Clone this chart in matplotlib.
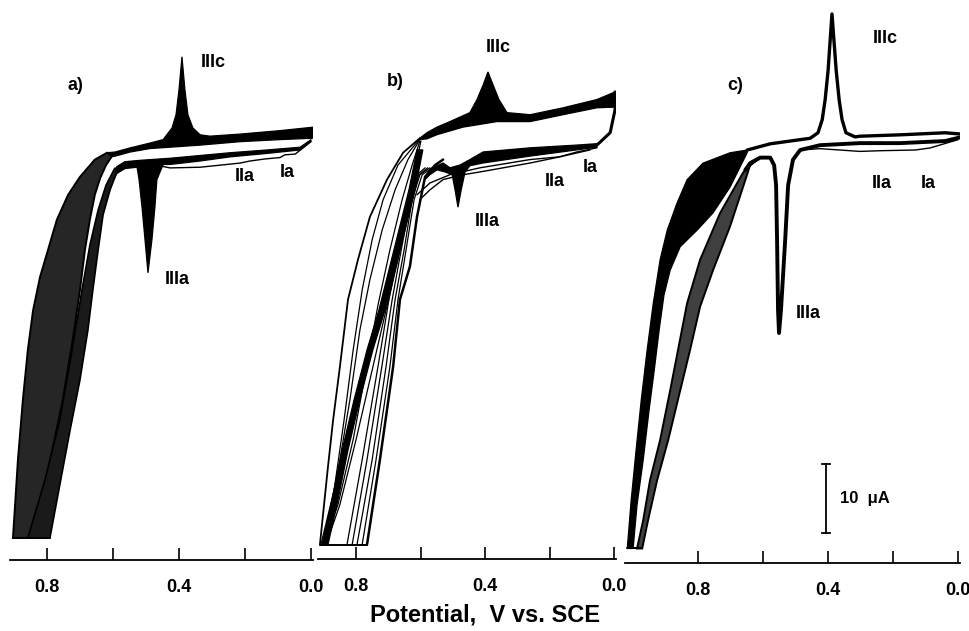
import numpy as np
import matplotlib.pyplot as plt

plt.rcParams['font.family'] = ['Liberation Sans', 'DejaVu Sans']
plt.rcParams['font.weight'] = 'bold'

# x axis: potential (V vs. SCE), y: current (uA), same current scale in all panels
tick_pos = [0.8, 0.6, 0.4, 0.2, 0.0]
tick_lab = ['0.8', '', '0.4', '', '0.0']

# ---------------- a) ----------------
a_up_top_E = [-0.006, 0.094, 0.215, 0.306, 0.336, 0.358, 0.373, 0.382, 0.391, 0.400, 0.409, 0.421, 0.448, 0.488, 0.548, 0.594, 0.618]
a_up_top_I = [3.0, 2.5, 2.0, 1.7, 1.9, 2.9, 4.8, 8.4, 13.2, 8.4, 4.8, 2.9, 1.2, 0.7, 0.0, -0.6, -0.7]
a_up_bot_E = [-0.006, 0.094, 0.215, 0.336, 0.427, 0.488, 0.548, 0.594, 0.609]
a_up_bot_I = [1.4, 1.2, 0.9, 0.4, 0.1, -0.1, -0.6, -1.2, -1.3]
a_lo_top_E = [0.0, 0.033, 0.133, 0.245, 0.336, 0.427, 0.458, 0.518, 0.564, 0.588, 0.600]
a_lo_top_I = [1.2, 0.1, -0.3, -0.7, -1.1, -1.5, -1.6, -1.8, -2.0, -2.7, -3.7]
a_lo_bot_E = [0.0, 0.033, 0.133, 0.245, 0.336, 0.427, 0.448, 0.467, 0.473, 0.482, 0.494, 0.503, 0.512, 0.521, 0.527, 0.564, 0.588, 0.600]
a_lo_bot_I = [1.0, -0.3, -0.8, -1.3, -1.9, -2.4, -2.4, -4.6, -8.6, -13.3, -18.1, -13.3, -8.6, -4.6, -2.8, -3.0, -3.7, -4.5]
a_first_E = [0.0, 0.048, 0.079, 0.094, 0.139, 0.185, 0.215, 0.336, 0.427, 0.458]
a_first_I = [0.9, -0.9, -1.0, -1.4, -1.6, -1.9, -2.2, -2.8, -2.9, -2.6]
a_rev_out_E = [0.618, 0.655, 0.700, 0.736, 0.770, 0.797, 0.821, 0.842, 0.858, 0.873, 0.888, 0.903]
a_rev_out_I = [-0.7, -1.7, -4.2, -6.8, -10.4, -14.8, -18.7, -23.5, -29.3, -36.5, -45.2, -56.5]
a_rev_in_E = [0.603, 0.621, 0.639, 0.655, 0.670, 0.685, 0.700, 0.722, 0.752, 0.790, 0.836]
a_rev_in_I = [-1.2, -2.5, -4.4, -6.8, -10.4, -14.8, -20.6, -27.8, -36.5, -45.2, -56.5]
a_fwd_l_E = [0.594, 0.621, 0.645, 0.670, 0.694, 0.724, 0.761, 0.806, 0.858]
a_fwd_l_I = [-2.9, -5.4, -9.0, -14.1, -20.6, -29.3, -39.4, -48.1, -56.5]
a_fwd_r_E = [0.588, 0.609, 0.630, 0.645, 0.661, 0.676, 0.700, 0.730, 0.761, 0.791]
a_fwd_r_I = [-3.5, -6.1, -9.7, -14.8, -20.6, -26.4, -33.6, -40.9, -48.8, -56.5]
a_bottom_E = [0.903, 0.791]
a_bottom_I = [-56.5, -56.5]

# ---------------- b) ----------------
b_up_top_E = [-0.003, 0.053, 0.158, 0.260, 0.332, 0.357, 0.375, 0.391, 0.406, 0.425, 0.447, 0.509, 0.549, 0.580, 0.602]
b_up_top_I = [8.1, 7.0, 5.8, 4.8, 5.1, 7.0, 9.1, 11.0, 9.1, 7.0, 5.1, 3.8, 3.0, 2.2, 1.4]
b_up_bot_E = [-0.003, 0.053, 0.158, 0.260, 0.363, 0.468, 0.549, 0.580, 0.602]
b_up_bot_I = [5.9, 5.8, 4.8, 3.8, 3.8, 3.0, 1.9, 1.3, 1.2]
b_right_E = [-0.003, -0.003, 0.012, 0.053, 0.084]
b_right_I = [8.1, 5.5, 2.2, 0.4, 0.1]
b_lo_top_E = [0.053, 0.115, 0.260, 0.406, 0.447, 0.478, 0.509, 0.530, 0.549, 0.571, 0.586]
b_lo_top_I = [0.6, 0.4, 0.0, -0.6, -1.7, -2.5, -2.9, -2.2, -2.6, -3.2, -4.2]
b_lo_bot_E = [0.053, 0.115, 0.260, 0.406, 0.447, 0.462, 0.474, 0.484, 0.493, 0.502, 0.524, 0.549, 0.571, 0.586]
b_lo_bot_I = [0.1, -0.3, -1.2, -2.2, -2.6, -3.5, -6.1, -8.6, -6.1, -3.9, -3.5, -3.2, -3.9, -4.6]
b_line1_E = [0.053, 0.115, 0.177, 0.260, 0.416, 0.468, 0.530, 0.571, 0.602]
b_line1_I = [0.0, -0.6, -1.4, -2.2, -3.5, -3.9, -4.6, -6.1, -7.5]
b_line2_E = [0.074, 0.167, 0.260, 0.416, 0.509, 0.571, 0.611]
b_line2_I = [-0.3, -1.3, -1.7, -2.9, -3.9, -5.1, -6.8]
b_rev_out_E = [0.602, 0.654, 0.704, 0.757, 0.794, 0.825, 0.850, 0.871, 0.887, 0.912]
b_rev_out_I = [1.4, -0.7, -4.6, -10.0, -16.2, -22.0, -31.7, -39.4, -46.2, -57.5]
b_fan1_E = [0.602, 0.670, 0.716, 0.750, 0.781, 0.809, 0.837, 0.868, 0.909]
b_fan1_I = [1.3, -2.5, -7.5, -13.3, -20.6, -29.3, -39.4, -49.6, -57.5]
b_fan2_E = [0.602, 0.639, 0.679, 0.719, 0.757, 0.788, 0.819, 0.850, 0.881, 0.905]
b_fan2_I = [1.2, -1.7, -6.1, -11.9, -19.1, -26.4, -36.5, -45.2, -52.5, -57.5]
b_fan3_E = [0.602, 0.626, 0.657, 0.695, 0.732, 0.769, 0.809, 0.856, 0.899]
b_fan3_I = [1.0, -2.5, -7.5, -14.8, -22.8, -32.2, -42.3, -51.7, -57.5]
b_fan4_E = [0.599, 0.617, 0.639, 0.670, 0.707, 0.750, 0.800, 0.850, 0.893]
b_fan4_I = [1.0, -3.2, -9.0, -16.2, -23.5, -32.2, -42.3, -51.7, -57.5]
b_thick_l_E = [0.611, 0.636, 0.667, 0.698, 0.729, 0.766, 0.806, 0.843, 0.874, 0.905]
b_thick_r_E = [0.593, 0.617, 0.648, 0.679, 0.710, 0.748, 0.788, 0.825, 0.856, 0.887]
b_thick_I = [-0.3, -6.1, -11.9, -17.7, -23.5, -29.3, -36.5, -43.8, -51.0, -57.5]
b_fwd1_E = [0.766, 0.726, 0.685, 0.664, 0.633, 0.611, 0.586, 0.555, 0.530]
b_fwd1_I = [-57.5, -45.2, -31.7, -22.0, -17.2, -10.0, -4.2, -2.5, -1.7]
b_fwd2_E = [0.781, 0.738, 0.695, 0.670, 0.645, 0.620, 0.595, 0.564]
b_fwd3_E = [0.797, 0.750, 0.707, 0.679, 0.651, 0.626, 0.602, 0.571]
b_fwd4_E = [0.812, 0.766, 0.720, 0.688, 0.660, 0.630, 0.605, 0.578]
b_fwd5_E = [0.828, 0.781, 0.732, 0.698, 0.667, 0.636, 0.611, 0.586]
b_fwd_I = [-57.5, -45.2, -31.7, -22.0, -14.8, -7.5, -3.9, -2.9]
b_bottom_E = [0.912, 0.766]
b_bottom_I = [-57.5, -57.5]

# ---------------- c) ----------------
c_up_E = [-0.012, 0.040, 0.178, 0.302, 0.317, 0.345, 0.357, 0.366, 0.375, 0.388, 0.400, 0.409, 0.418, 0.431, 0.455, 0.486, 0.578, 0.649]
c_up_I = [2.0, 2.2, 1.9, 1.7, 1.6, 2.2, 4.1, 7.0, 11.2, 19.4, 11.2, 7.0, 4.1, 2.2, 1.4, 1.2, 0.6, -0.3]
c_lo_E = [-0.012, 0.040, 0.178, 0.302, 0.425, 0.486, 0.508, 0.523, 0.532, 0.545, 0.551, 0.554, 0.557, 0.560, 0.566, 0.578, 0.609, 0.640, 0.655]
c_lo_I = [1.6, 1.0, 0.7, 0.7, 0.4, -0.3, -1.7, -5.4, -13.3, -23.5, -26.8, -23.5, -13.3, -5.4, -2.5, -1.4, -1.4, -2.2, -3.2]
c_thin_E = [0.0, 0.086, 0.132, 0.240, 0.302, 0.425, 0.486]
c_thin_I = [1.2, 0.0, -0.3, -0.4, -0.5, -0.1, -0.3]
c_rev_out_E = [0.649, 0.702, 0.785, 0.834, 0.865, 0.895, 0.917, 0.938, 0.957, 0.975, 0.991, 1.006, 1.018]
c_rev_out_I = [-0.3, -0.7, -2.2, -4.6, -8.0, -11.9, -16.2, -22.5, -29.3, -36.5, -43.8, -51.0, -58.0]
c_rev_in_E = [0.649, 0.702, 0.754, 0.803, 0.855, 0.886, 0.905, 0.920, 0.935, 0.951, 0.969, 0.988, 1.000]
c_rev_in_I = [-0.7, -5.7, -9.4, -11.9, -14.3, -17.7, -21.3, -26.4, -32.2, -38.0, -45.2, -51.7, -58.0]
c_fwd_r_E = [0.609, 0.640, 0.662, 0.702, 0.754, 0.794, 0.825, 0.855, 0.892, 0.926, 0.954, 0.972]
c_fwd_r_I = [-1.4, -2.5, -5.7, -11.4, -17.7, -23.0, -29.3, -35.1, -42.3, -48.1, -53.9, -58.0]
c_fwd_l_E = [0.640, 0.662, 0.732, 0.794, 0.834, 0.862, 0.886, 0.917, 0.948, 0.969, 0.988]
c_fwd_l_I = [-2.5, -3.6, -9.4, -16.2, -22.5, -29.3, -35.1, -42.3, -48.1, -53.9, -58.0]
c_bottom_E = [1.018, 0.972]
c_bottom_I = [-58.0, -58.0]

# scale bar (10 uA)
bar_E = 0.406
bar_I = [-45.7, -55.7]

I_TOP = 20.7


def band(ax, e1, i1, e2, i2, fc='k', lw=0.9):
    xs = np.r_[e1, e2[::-1]]
    ys = np.r_[i1, i2[::-1]]
    ax.fill(xs, ys, fc=fc, lw=lw, ec='k')


def line(ax, e, i, lw=1.0):
    ax.plot(e, i, color='k', lw=lw, solid_capstyle='round', solid_joinstyle='round')


def setup(ax, left, right, bottom):
    ax.set_xlim(left, right)
    ax.set_ylim(bottom, I_TOP)
    for s in ['left', 'right', 'top']:
        ax.spines[s].set_visible(False)
    ax.spines['bottom'].set_linewidth(1.3)
    ax.set_yticks([])
    ax.set_xticks(tick_pos, tick_lab)
    ax.tick_params(axis='x', direction='in', length=9, width=1.2, pad=14, labelsize=13)
    ax.patch.set_alpha(0)


fig = plt.figure(figsize=(9.7, 6.31), dpi=100)
ax_a = fig.add_axes([10 / 970, 71 / 631, 303 / 970, 555 / 631])
ax_b = fig.add_axes([318 / 970, 72 / 631, 298 / 970, 554 / 631])
ax_c = fig.add_axes([625 / 970, 68 / 631, 335 / 970, 558 / 631])

setup(ax_a, 0.912, -0.006, -59.7)
setup(ax_b, 0.918, -0.006, -59.6)
setup(ax_c, 1.025, -0.006, -60.1)

# a)
band(ax_a, a_up_top_E, a_up_top_I, a_up_bot_E, a_up_bot_I)
band(ax_a, a_lo_top_E, a_lo_top_I, a_lo_bot_E, a_lo_bot_I)
line(ax_a, a_first_E, a_first_I, 1.0)
band(ax_a, a_rev_out_E, a_rev_out_I, a_rev_in_E, a_rev_in_I, fc='0.15', lw=1.4)
band(ax_a, a_fwd_l_E, a_fwd_l_I, a_fwd_r_E, a_fwd_r_I, fc='0.1', lw=1.2)
line(ax_a, a_bottom_E, a_bottom_I, 1.4)

# b)
band(ax_b, b_up_top_E, b_up_top_I, b_up_bot_E, b_up_bot_I)
line(ax_b, b_right_E, b_right_I, 2.2)
band(ax_b, b_lo_top_E, b_lo_top_I, b_lo_bot_E, b_lo_bot_I)
line(ax_b, b_line1_E, b_line1_I, 1.0)
line(ax_b, b_line2_E, b_line2_I, 1.0)
line(ax_b, b_rev_out_E, b_rev_out_I, 1.3)
for fe, fi in [(b_fan1_E, b_fan1_I), (b_fan2_E, b_fan2_I), (b_fan3_E, b_fan3_I), (b_fan4_E, b_fan4_I)]:
    line(ax_b, fe, fi, 0.9)
band(ax_b, b_thick_l_E, b_thick_I, b_thick_r_E, b_thick_I)
line(ax_b, b_fwd1_E, b_fwd1_I, 1.8)
for fe in [b_fwd2_E, b_fwd3_E, b_fwd4_E, b_fwd5_E]:
    line(ax_b, fe, b_fwd_I, 0.9)
line(ax_b, b_bottom_E, b_bottom_I, 1.4)

# c)
line(ax_c, c_up_E, c_up_I, 2.4)
line(ax_c, c_lo_E, c_lo_I, 2.8)
line(ax_c, c_thin_E, c_thin_I, 1.0)
band(ax_c, c_rev_out_E, c_rev_out_I, c_rev_in_E, c_rev_in_I)
band(ax_c, c_fwd_l_E, c_fwd_l_I, c_fwd_r_E, c_fwd_r_I, fc='0.25', lw=1.4)
line(ax_c, c_bottom_E, c_bottom_I, 1.4)

# scale bar
ax_c.plot([bar_E, bar_E], bar_I, color='k', lw=1.3)
for yb in bar_I:
    ax_c.plot([bar_E + 0.012, bar_E - 0.012], [yb, yb], color='k', lw=1.3)
ax_c.text(bar_E - 0.043, np.mean(bar_I), '10  \u03bcA', fontsize=12, ha='left', va='center')

# peak labels
fs = 13
ax_a.text(0.715, 9.1, 'a)', fontsize=13, ha='center', va='center')
ax_a.text(0.297, 12.3, 'IIIc', fontsize=fs, ha='center', va='center')
ax_a.text(0.406, -19.1, 'IIIa', fontsize=fs, ha='center', va='center')
ax_a.text(0.200, -4.2, 'IIa', fontsize=fs, ha='center', va='center')
ax_a.text(0.073, -3.6, 'Ia', fontsize=fs, ha='center', va='center')

ax_b.text(0.679, 9.6, 'b)', fontsize=13, ha='center', va='center')
ax_b.text(0.360, 14.5, 'IIIc', fontsize=fs, ha='center', va='center')
ax_b.text(0.394, -10.7, 'IIIa', fontsize=fs, ha='center', va='center')
ax_b.text(0.183, -4.9, 'IIa', fontsize=fs, ha='center', va='center')
ax_b.text(0.074, -2.9, 'Ia', fontsize=fs, ha='center', va='center')

ax_c.text(0.686, 9.1, 'c)', fontsize=13, ha='center', va='center')
ax_c.text(0.225, 15.9, 'IIIc', fontsize=fs, ha='center', va='center')
ax_c.text(0.462, -23.9, 'IIIa', fontsize=fs, ha='center', va='center')
ax_c.text(0.234, -5.1, 'IIa', fontsize=fs, ha='center', va='center')
ax_c.text(0.092, -5.1, 'Ia', fontsize=fs, ha='center', va='center')

fig.text(0.5, 16 / 631, 'Potential,  V vs. SCE', fontsize=17, ha='center', va='center')

fig.savefig('out.png', dpi=100)
